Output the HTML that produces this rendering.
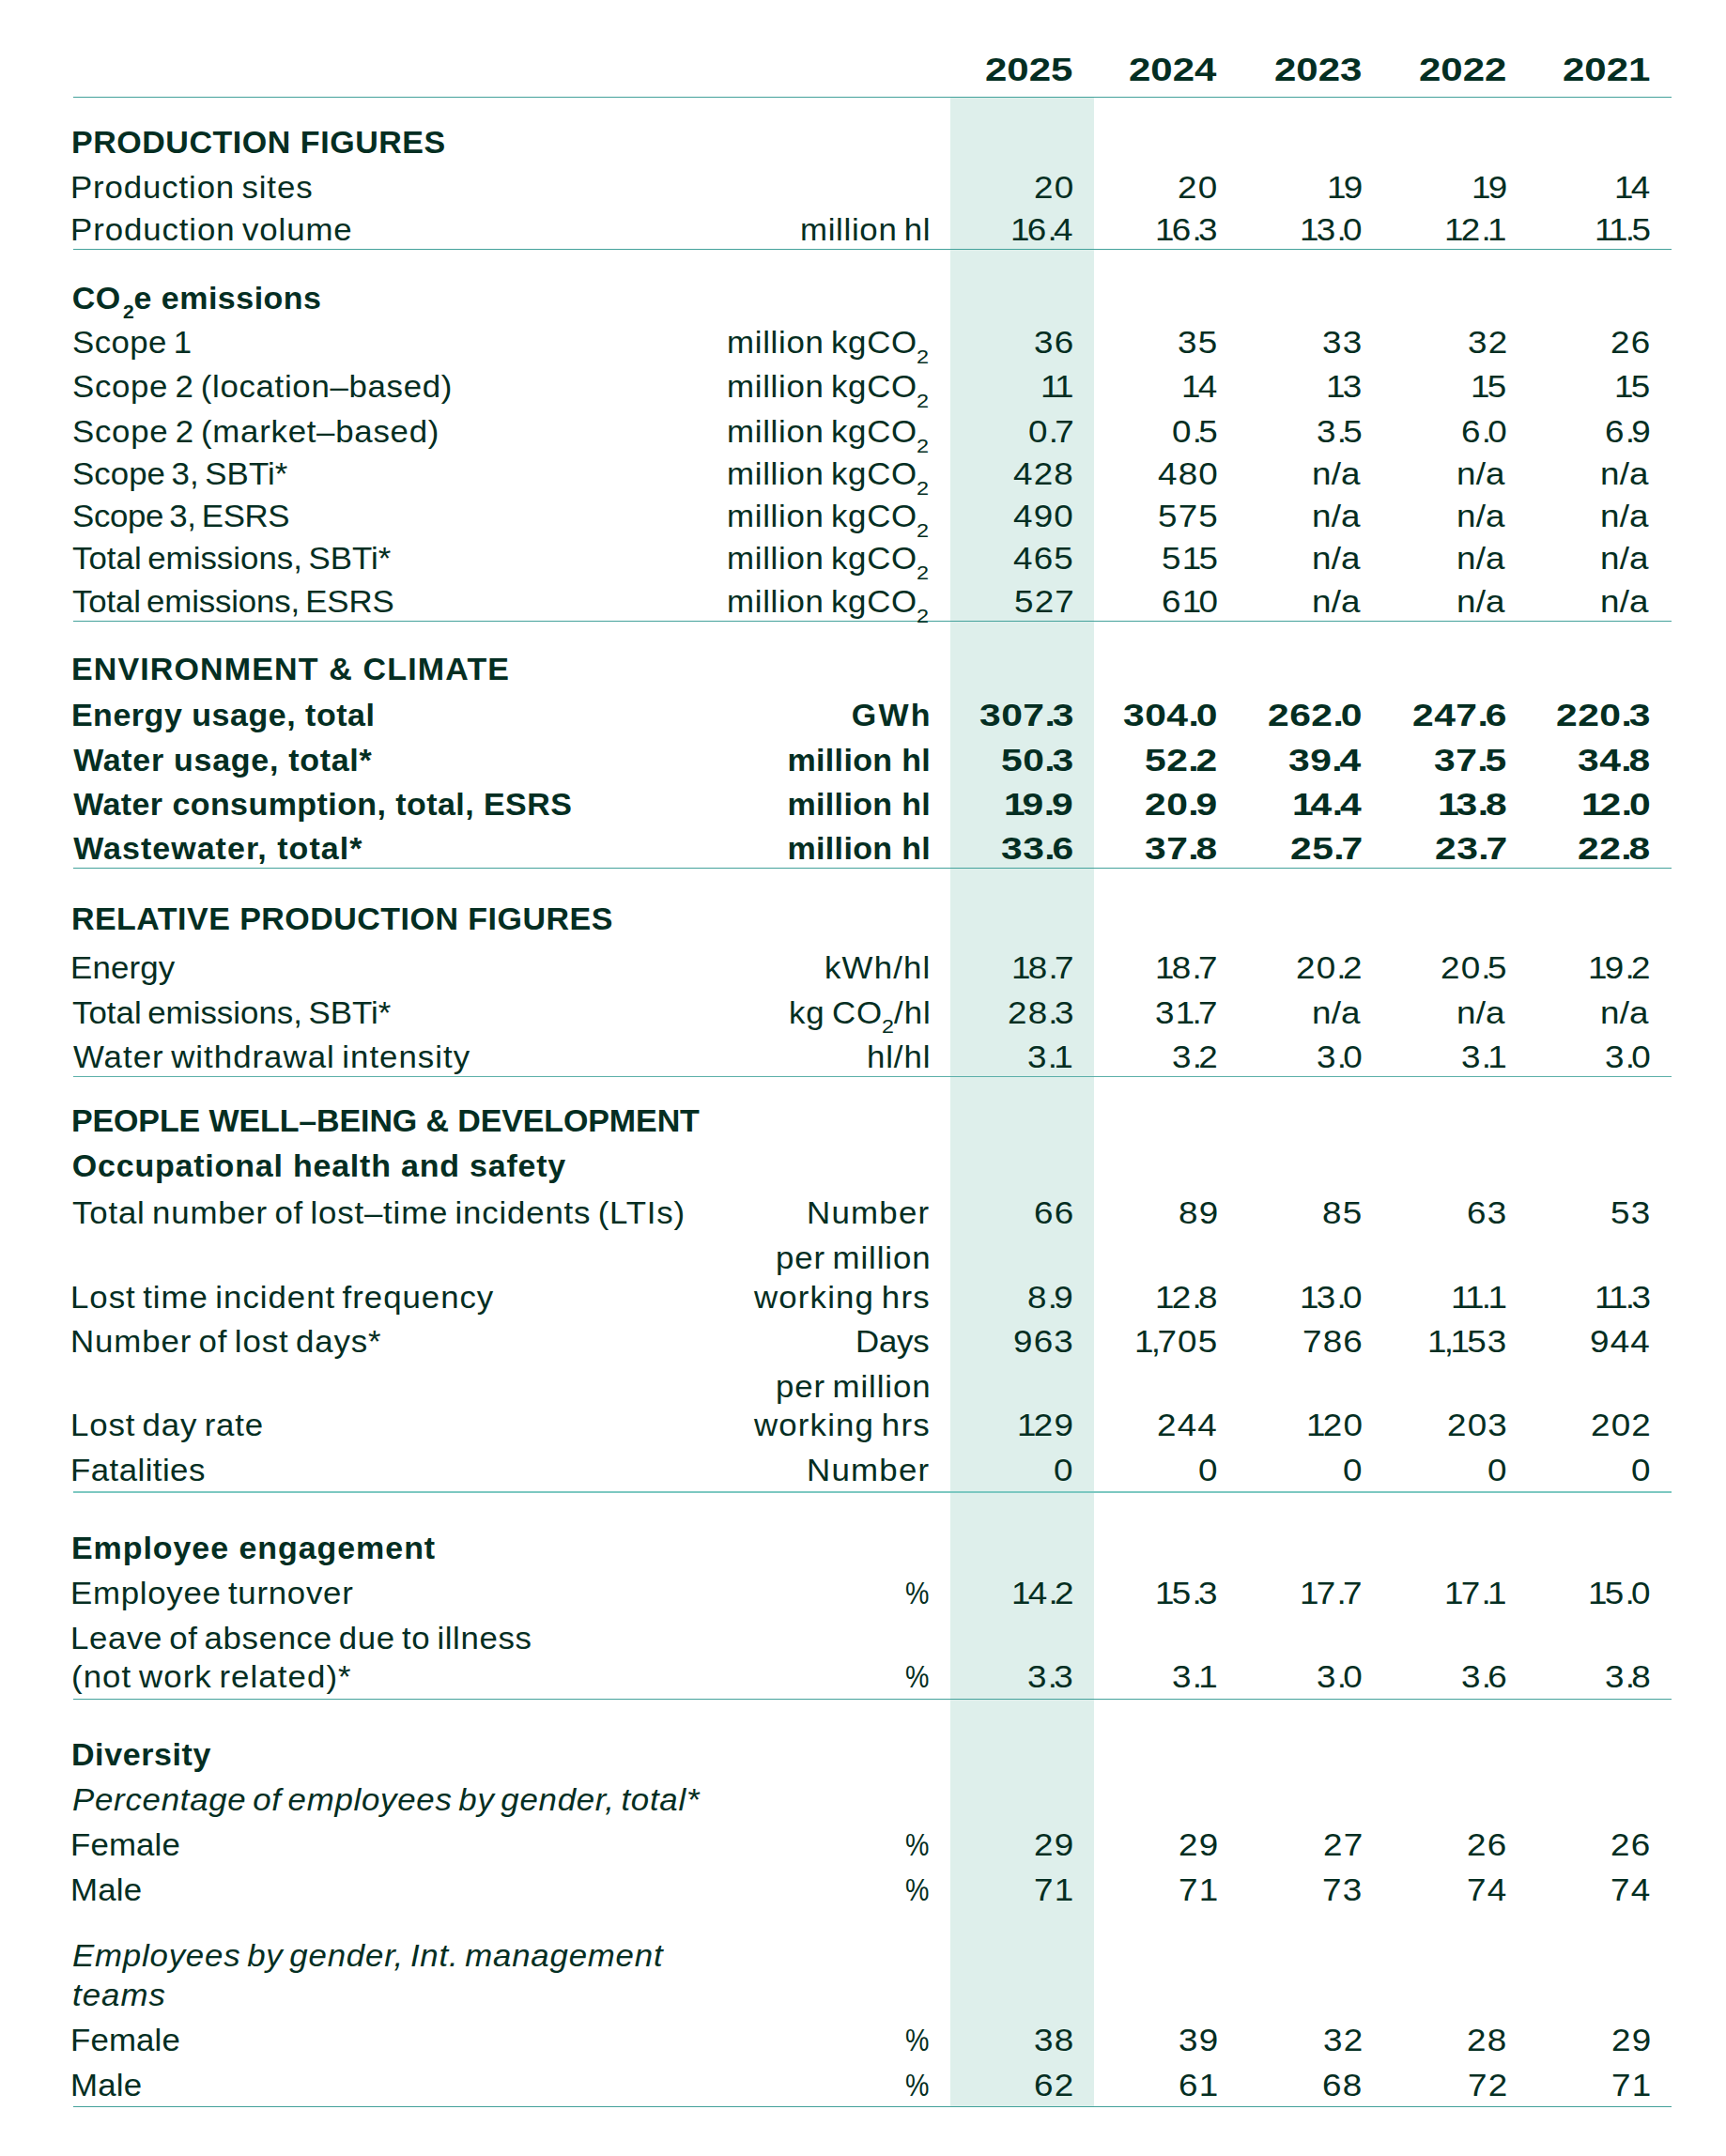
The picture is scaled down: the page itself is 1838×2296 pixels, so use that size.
<!DOCTYPE html>
<html><head><meta charset="utf-8"><title>Sustainability key figures 2021-2025</title>
<style>
html,body{margin:0;padding:0;background:#fff;}
body{width:1838px;height:2296px;position:relative;overflow:hidden;font-family:"Liberation Sans",sans-serif;color:#042e22;}
.t{position:absolute;white-space:nowrap;}
.ln{position:absolute;left:78px;width:1702px;}
.hl{position:absolute;left:1011.5px;width:153.5px;background:#deefeb;}
</style></head><body>
<div class="hl" style="top:104px;height:2139px"></div>
<div class="ln" style="top:103px;height:1px;background:#44a29b"></div>
<div class="ln" style="top:265px;height:1px;background:#44a29b"></div>
<div class="ln" style="top:661px;height:1px;background:#44a29b"></div>
<div class="ln" style="top:924px;height:1px;background:#44a29b"></div>
<div class="ln" style="top:1146px;height:1px;background:#5cb0aa"></div>
<div class="ln" style="top:1588px;height:2px;background:#7cc8c1"></div>
<div class="ln" style="top:1809px;height:1px;background:#44a29b"></div>
<div class="ln" style="top:2243px;height:1px;background:#44a29b"></div>
<div class="t" style="left:75.93px;top:134.00px;font-size:34.0px;line-height:34.0px;font-weight:bold;letter-spacing:0.54px;">PRODUCTION FIGURES</div>
<div class="t" style="left:75.34px;top:183.00px;font-size:33.5px;line-height:33.5px;letter-spacing:0.82px;word-spacing:-3.00px;transform:scaleX(1.040);transform-origin:0 0;">Production sites</div>
<div class="t" style="left:1100.78px;top:183.00px;font-size:33.5px;line-height:33.5px;transform:scaleX(1.100);transform-origin:0 0;"><span style="letter-spacing:1.06px">2</span><span style="letter-spacing:1.06px">0</span></div>
<div class="t" style="left:1254.28px;top:183.00px;font-size:33.5px;line-height:33.5px;transform:scaleX(1.100);transform-origin:0 0;"><span style="letter-spacing:1.06px">2</span><span style="letter-spacing:1.06px">0</span></div>
<div class="t" style="left:1412.51px;top:183.00px;font-size:33.5px;line-height:33.5px;transform:scaleX(1.100);transform-origin:0 0;"><span style="letter-spacing:-2.50px">1</span><span style="letter-spacing:1.06px">9</span></div>
<div class="t" style="left:1566.51px;top:183.00px;font-size:33.5px;line-height:33.5px;transform:scaleX(1.100);transform-origin:0 0;"><span style="letter-spacing:-2.50px">1</span><span style="letter-spacing:1.06px">9</span></div>
<div class="t" style="left:1718.84px;top:183.00px;font-size:33.5px;line-height:33.5px;transform:scaleX(1.100);transform-origin:0 0;"><span style="letter-spacing:-2.50px">1</span><span style="letter-spacing:1.06px">4</span></div>
<div class="t" style="left:75.34px;top:228.00px;font-size:33.5px;line-height:33.5px;letter-spacing:0.86px;word-spacing:-3.00px;transform:scaleX(1.040);transform-origin:0 0;">Production volume</div>
<div class="t" style="left:852.09px;top:228.00px;font-size:33.5px;line-height:33.5px;letter-spacing:0.65px;word-spacing:-3.00px;transform:scaleX(1.040);transform-origin:0 0;">million hl</div>
<div class="t" style="left:1076.02px;top:228.00px;font-size:33.5px;line-height:33.5px;transform:scaleX(1.100);transform-origin:0 0;"><span style="letter-spacing:-2.50px">1</span><span style="letter-spacing:1.06px">6</span><span style="letter-spacing:-3.25px">.</span><span style="letter-spacing:1.06px">4</span></div>
<div class="t" style="left:1230.06px;top:228.00px;font-size:33.5px;line-height:33.5px;transform:scaleX(1.100);transform-origin:0 0;"><span style="letter-spacing:-2.50px">1</span><span style="letter-spacing:1.06px">6</span><span style="letter-spacing:-3.25px">.</span><span style="letter-spacing:1.06px">3</span></div>
<div class="t" style="left:1383.88px;top:228.00px;font-size:33.5px;line-height:33.5px;transform:scaleX(1.100);transform-origin:0 0;"><span style="letter-spacing:-2.50px">1</span><span style="letter-spacing:1.06px">3</span><span style="letter-spacing:-3.25px">.</span><span style="letter-spacing:1.06px">0</span></div>
<div class="t" style="left:1538.24px;top:228.00px;font-size:33.5px;line-height:33.5px;transform:scaleX(1.100);transform-origin:0 0;"><span style="letter-spacing:-2.50px">1</span><span style="letter-spacing:1.06px">2</span><span style="letter-spacing:-3.25px">.</span><span style="letter-spacing:-2.50px">1</span></div>
<div class="t" style="left:1697.64px;top:228.00px;font-size:33.5px;line-height:33.5px;transform:scaleX(1.100);transform-origin:0 0;"><span style="letter-spacing:-2.50px">1</span><span style="letter-spacing:-2.50px">1</span><span style="letter-spacing:-3.25px">.</span><span style="letter-spacing:1.06px">5</span></div>
<div class="t" style="left:76.81px;top:300.00px;font-size:34.0px;line-height:34.0px;font-weight:bold;letter-spacing:0.42px;">CO</div>
<div class="t" style="left:130.57px;top:322.00px;font-size:20.0px;line-height:20.0px;font-weight:bold;transform:scaleX(1.059);transform-origin:0 0;">2</div>
<div class="t" style="left:142.47px;top:300.00px;font-size:34.0px;line-height:34.0px;font-weight:bold;letter-spacing:0.49px;">e emissions</div>
<div class="t" style="left:76.62px;top:348.00px;font-size:33.5px;line-height:33.5px;letter-spacing:0.38px;word-spacing:-3.00px;transform:scaleX(1.040);transform-origin:0 0;">Scope 1</div>
<div class="t" style="left:774.39px;top:348.00px;font-size:33.5px;line-height:33.5px;letter-spacing:0.68px;word-spacing:-3.00px;transform:scaleX(1.040);transform-origin:0 0;">million kgCO</div>
<div class="t" style="left:976.12px;top:371.00px;font-size:19.5px;line-height:19.5px;transform:scaleX(1.204);transform-origin:0 0;">2</div>
<div class="t" style="left:1100.96px;top:348.00px;font-size:33.5px;line-height:33.5px;transform:scaleX(1.100);transform-origin:0 0;"><span style="letter-spacing:1.06px">3</span><span style="letter-spacing:1.06px">6</span></div>
<div class="t" style="left:1254.39px;top:348.00px;font-size:33.5px;line-height:33.5px;transform:scaleX(1.100);transform-origin:0 0;"><span style="letter-spacing:1.06px">3</span><span style="letter-spacing:1.06px">5</span></div>
<div class="t" style="left:1408.46px;top:348.00px;font-size:33.5px;line-height:33.5px;transform:scaleX(1.100);transform-origin:0 0;"><span style="letter-spacing:1.06px">3</span><span style="letter-spacing:1.06px">3</span></div>
<div class="t" style="left:1562.70px;top:348.00px;font-size:33.5px;line-height:33.5px;transform:scaleX(1.100);transform-origin:0 0;"><span style="letter-spacing:1.06px">3</span><span style="letter-spacing:1.06px">2</span></div>
<div class="t" style="left:1715.46px;top:348.00px;font-size:33.5px;line-height:33.5px;transform:scaleX(1.100);transform-origin:0 0;"><span style="letter-spacing:1.06px">2</span><span style="letter-spacing:1.06px">6</span></div>
<div class="t" style="left:76.62px;top:395.00px;font-size:33.5px;line-height:33.5px;letter-spacing:0.65px;word-spacing:-3.00px;transform:scaleX(1.040);transform-origin:0 0;">Scope 2 (location–based)</div>
<div class="t" style="left:774.39px;top:395.00px;font-size:33.5px;line-height:33.5px;letter-spacing:0.68px;word-spacing:-3.00px;transform:scaleX(1.040);transform-origin:0 0;">million kgCO</div>
<div class="t" style="left:976.12px;top:418.00px;font-size:19.5px;line-height:19.5px;transform:scaleX(1.204);transform-origin:0 0;">2</div>
<div class="t" style="left:1107.80px;top:395.00px;font-size:33.5px;line-height:33.5px;transform:scaleX(1.100);transform-origin:0 0;"><span style="letter-spacing:-2.50px">1</span><span style="letter-spacing:-2.50px">1</span></div>
<div class="t" style="left:1257.84px;top:395.00px;font-size:33.5px;line-height:33.5px;transform:scaleX(1.100);transform-origin:0 0;"><span style="letter-spacing:-2.50px">1</span><span style="letter-spacing:1.06px">4</span></div>
<div class="t" style="left:1412.38px;top:395.00px;font-size:33.5px;line-height:33.5px;transform:scaleX(1.100);transform-origin:0 0;"><span style="letter-spacing:-2.50px">1</span><span style="letter-spacing:1.06px">3</span></div>
<div class="t" style="left:1566.31px;top:395.00px;font-size:33.5px;line-height:33.5px;transform:scaleX(1.100);transform-origin:0 0;"><span style="letter-spacing:-2.50px">1</span><span style="letter-spacing:1.06px">5</span></div>
<div class="t" style="left:1719.31px;top:395.00px;font-size:33.5px;line-height:33.5px;transform:scaleX(1.100);transform-origin:0 0;"><span style="letter-spacing:-2.50px">1</span><span style="letter-spacing:1.06px">5</span></div>
<div class="t" style="left:76.62px;top:443.00px;font-size:33.5px;line-height:33.5px;letter-spacing:0.69px;word-spacing:-3.00px;transform:scaleX(1.040);transform-origin:0 0;">Scope 2 (market–based)</div>
<div class="t" style="left:774.39px;top:443.00px;font-size:33.5px;line-height:33.5px;letter-spacing:0.68px;word-spacing:-3.00px;transform:scaleX(1.040);transform-origin:0 0;">million kgCO</div>
<div class="t" style="left:976.12px;top:466.00px;font-size:19.5px;line-height:19.5px;transform:scaleX(1.204);transform-origin:0 0;">2</div>
<div class="t" style="left:1094.54px;top:443.00px;font-size:33.5px;line-height:33.5px;transform:scaleX(1.100);transform-origin:0 0;"><span style="letter-spacing:1.06px">0</span><span style="letter-spacing:-3.25px">.</span><span style="letter-spacing:1.06px">7</span></div>
<div class="t" style="left:1247.73px;top:443.00px;font-size:33.5px;line-height:33.5px;transform:scaleX(1.100);transform-origin:0 0;"><span style="letter-spacing:1.06px">0</span><span style="letter-spacing:-3.25px">.</span><span style="letter-spacing:1.06px">5</span></div>
<div class="t" style="left:1401.73px;top:443.00px;font-size:33.5px;line-height:33.5px;transform:scaleX(1.100);transform-origin:0 0;"><span style="letter-spacing:1.06px">3</span><span style="letter-spacing:-3.25px">.</span><span style="letter-spacing:1.06px">5</span></div>
<div class="t" style="left:1555.62px;top:443.00px;font-size:33.5px;line-height:33.5px;transform:scaleX(1.100);transform-origin:0 0;"><span style="letter-spacing:1.06px">6</span><span style="letter-spacing:-3.25px">.</span><span style="letter-spacing:1.06px">0</span></div>
<div class="t" style="left:1708.93px;top:443.00px;font-size:33.5px;line-height:33.5px;transform:scaleX(1.100);transform-origin:0 0;"><span style="letter-spacing:1.06px">6</span><span style="letter-spacing:-3.25px">.</span><span style="letter-spacing:1.06px">9</span></div>
<div class="t" style="left:76.62px;top:488.00px;font-size:33.5px;line-height:33.5px;letter-spacing:0.04px;word-spacing:-3.00px;transform:scaleX(1.040);transform-origin:0 0;">Scope 3, SBTi*</div>
<div class="t" style="left:774.39px;top:488.00px;font-size:33.5px;line-height:33.5px;letter-spacing:0.68px;word-spacing:-3.00px;transform:scaleX(1.040);transform-origin:0 0;">million kgCO</div>
<div class="t" style="left:976.12px;top:511.00px;font-size:19.5px;line-height:19.5px;transform:scaleX(1.204);transform-origin:0 0;">2</div>
<div class="t" style="left:1079.29px;top:488.00px;font-size:33.5px;line-height:33.5px;transform:scaleX(1.100);transform-origin:0 0;"><span style="letter-spacing:1.06px">4</span><span style="letter-spacing:1.06px">2</span><span style="letter-spacing:1.06px">8</span></div>
<div class="t" style="left:1232.62px;top:488.00px;font-size:33.5px;line-height:33.5px;transform:scaleX(1.100);transform-origin:0 0;"><span style="letter-spacing:1.06px">4</span><span style="letter-spacing:1.06px">8</span><span style="letter-spacing:1.06px">0</span></div>
<div class="t" style="left:1397.44px;top:488.00px;font-size:33.5px;line-height:33.5px;transform:scaleX(1.100);transform-origin:0 0;"><span style="letter-spacing:0.30px">n</span><span style="letter-spacing:0.00px">/</span><span style="letter-spacing:0.30px">a</span></div>
<div class="t" style="left:1551.44px;top:488.00px;font-size:33.5px;line-height:33.5px;transform:scaleX(1.100);transform-origin:0 0;"><span style="letter-spacing:0.30px">n</span><span style="letter-spacing:0.00px">/</span><span style="letter-spacing:0.30px">a</span></div>
<div class="t" style="left:1704.44px;top:488.00px;font-size:33.5px;line-height:33.5px;transform:scaleX(1.100);transform-origin:0 0;"><span style="letter-spacing:0.30px">n</span><span style="letter-spacing:0.00px">/</span><span style="letter-spacing:0.30px">a</span></div>
<div class="t" style="left:76.62px;top:533.00px;font-size:33.5px;line-height:33.5px;letter-spacing:-0.34px;word-spacing:-3.00px;transform:scaleX(1.040);transform-origin:0 0;">Scope 3, ESRS</div>
<div class="t" style="left:774.39px;top:533.00px;font-size:33.5px;line-height:33.5px;letter-spacing:0.68px;word-spacing:-3.00px;transform:scaleX(1.040);transform-origin:0 0;">million kgCO</div>
<div class="t" style="left:976.12px;top:556.00px;font-size:19.5px;line-height:19.5px;transform:scaleX(1.204);transform-origin:0 0;">2</div>
<div class="t" style="left:1079.12px;top:533.00px;font-size:33.5px;line-height:33.5px;transform:scaleX(1.100);transform-origin:0 0;"><span style="letter-spacing:1.06px">4</span><span style="letter-spacing:1.06px">9</span><span style="letter-spacing:1.06px">0</span></div>
<div class="t" style="left:1232.73px;top:533.00px;font-size:33.5px;line-height:33.5px;transform:scaleX(1.100);transform-origin:0 0;"><span style="letter-spacing:1.06px">5</span><span style="letter-spacing:1.06px">7</span><span style="letter-spacing:1.06px">5</span></div>
<div class="t" style="left:1397.44px;top:533.00px;font-size:33.5px;line-height:33.5px;transform:scaleX(1.100);transform-origin:0 0;"><span style="letter-spacing:0.30px">n</span><span style="letter-spacing:0.00px">/</span><span style="letter-spacing:0.30px">a</span></div>
<div class="t" style="left:1551.44px;top:533.00px;font-size:33.5px;line-height:33.5px;transform:scaleX(1.100);transform-origin:0 0;"><span style="letter-spacing:0.30px">n</span><span style="letter-spacing:0.00px">/</span><span style="letter-spacing:0.30px">a</span></div>
<div class="t" style="left:1704.44px;top:533.00px;font-size:33.5px;line-height:33.5px;transform:scaleX(1.100);transform-origin:0 0;"><span style="letter-spacing:0.30px">n</span><span style="letter-spacing:0.00px">/</span><span style="letter-spacing:0.30px">a</span></div>
<div class="t" style="left:77.42px;top:578.00px;font-size:33.5px;line-height:33.5px;letter-spacing:0.01px;word-spacing:-3.00px;transform:scaleX(1.040);transform-origin:0 0;">Total emissions, SBTi*</div>
<div class="t" style="left:774.39px;top:578.00px;font-size:33.5px;line-height:33.5px;letter-spacing:0.68px;word-spacing:-3.00px;transform:scaleX(1.040);transform-origin:0 0;">million kgCO</div>
<div class="t" style="left:976.12px;top:601.00px;font-size:19.5px;line-height:19.5px;transform:scaleX(1.204);transform-origin:0 0;">2</div>
<div class="t" style="left:1079.23px;top:578.00px;font-size:33.5px;line-height:33.5px;transform:scaleX(1.100);transform-origin:0 0;"><span style="letter-spacing:1.06px">4</span><span style="letter-spacing:1.06px">6</span><span style="letter-spacing:1.06px">5</span></div>
<div class="t" style="left:1236.65px;top:578.00px;font-size:33.5px;line-height:33.5px;transform:scaleX(1.100);transform-origin:0 0;"><span style="letter-spacing:1.06px">5</span><span style="letter-spacing:-2.50px">1</span><span style="letter-spacing:1.06px">5</span></div>
<div class="t" style="left:1397.44px;top:578.00px;font-size:33.5px;line-height:33.5px;transform:scaleX(1.100);transform-origin:0 0;"><span style="letter-spacing:0.30px">n</span><span style="letter-spacing:0.00px">/</span><span style="letter-spacing:0.30px">a</span></div>
<div class="t" style="left:1551.44px;top:578.00px;font-size:33.5px;line-height:33.5px;transform:scaleX(1.100);transform-origin:0 0;"><span style="letter-spacing:0.30px">n</span><span style="letter-spacing:0.00px">/</span><span style="letter-spacing:0.30px">a</span></div>
<div class="t" style="left:1704.44px;top:578.00px;font-size:33.5px;line-height:33.5px;transform:scaleX(1.100);transform-origin:0 0;"><span style="letter-spacing:0.30px">n</span><span style="letter-spacing:0.00px">/</span><span style="letter-spacing:0.30px">a</span></div>
<div class="t" style="left:77.42px;top:624.00px;font-size:33.5px;line-height:33.5px;letter-spacing:-0.17px;word-spacing:-3.00px;transform:scaleX(1.040);transform-origin:0 0;">Total emissions, ESRS</div>
<div class="t" style="left:774.39px;top:624.00px;font-size:33.5px;line-height:33.5px;letter-spacing:0.68px;word-spacing:-3.00px;transform:scaleX(1.040);transform-origin:0 0;">million kgCO</div>
<div class="t" style="left:976.12px;top:647.00px;font-size:19.5px;line-height:19.5px;transform:scaleX(1.204);transform-origin:0 0;">2</div>
<div class="t" style="left:1079.54px;top:624.00px;font-size:33.5px;line-height:33.5px;transform:scaleX(1.100);transform-origin:0 0;"><span style="letter-spacing:1.06px">5</span><span style="letter-spacing:1.06px">2</span><span style="letter-spacing:1.06px">7</span></div>
<div class="t" style="left:1236.54px;top:624.00px;font-size:33.5px;line-height:33.5px;transform:scaleX(1.100);transform-origin:0 0;"><span style="letter-spacing:1.06px">6</span><span style="letter-spacing:-2.50px">1</span><span style="letter-spacing:1.06px">0</span></div>
<div class="t" style="left:1397.44px;top:624.00px;font-size:33.5px;line-height:33.5px;transform:scaleX(1.100);transform-origin:0 0;"><span style="letter-spacing:0.30px">n</span><span style="letter-spacing:0.00px">/</span><span style="letter-spacing:0.30px">a</span></div>
<div class="t" style="left:1551.44px;top:624.00px;font-size:33.5px;line-height:33.5px;transform:scaleX(1.100);transform-origin:0 0;"><span style="letter-spacing:0.30px">n</span><span style="letter-spacing:0.00px">/</span><span style="letter-spacing:0.30px">a</span></div>
<div class="t" style="left:1704.44px;top:624.00px;font-size:33.5px;line-height:33.5px;transform:scaleX(1.100);transform-origin:0 0;"><span style="letter-spacing:0.30px">n</span><span style="letter-spacing:0.00px">/</span><span style="letter-spacing:0.30px">a</span></div>
<div class="t" style="left:75.93px;top:695.00px;font-size:34.0px;line-height:34.0px;font-weight:bold;letter-spacing:1.14px;">ENVIRONMENT &amp; CLIMATE</div>
<div class="t" style="left:75.93px;top:744.00px;font-size:34.0px;line-height:34.0px;font-weight:bold;letter-spacing:0.52px;">Energy usage, total</div>
<div class="t" style="left:906.81px;top:744.00px;font-size:34.0px;line-height:34.0px;font-weight:bold;letter-spacing:2.15px;">GWh</div>
<div class="t" style="left:1042.55px;top:744.00px;font-size:34.0px;line-height:34.0px;transform:scaleX(1.200);transform-origin:0 0;font-weight:bold;"><span style="letter-spacing:0.40px">3</span><span style="letter-spacing:0.40px">0</span><span style="letter-spacing:0.40px">7</span><span style="letter-spacing:-2.60px">.</span><span style="letter-spacing:0.40px">3</span></div>
<div class="t" style="left:1196.25px;top:744.00px;font-size:34.0px;line-height:34.0px;transform:scaleX(1.200);transform-origin:0 0;font-weight:bold;"><span style="letter-spacing:0.40px">3</span><span style="letter-spacing:0.40px">0</span><span style="letter-spacing:0.40px">4</span><span style="letter-spacing:-2.60px">.</span><span style="letter-spacing:0.40px">0</span></div>
<div class="t" style="left:1350.25px;top:744.00px;font-size:34.0px;line-height:34.0px;transform:scaleX(1.200);transform-origin:0 0;font-weight:bold;"><span style="letter-spacing:0.40px">2</span><span style="letter-spacing:0.40px">6</span><span style="letter-spacing:0.40px">2</span><span style="letter-spacing:-2.60px">.</span><span style="letter-spacing:0.40px">0</span></div>
<div class="t" style="left:1504.05px;top:744.00px;font-size:34.0px;line-height:34.0px;transform:scaleX(1.200);transform-origin:0 0;font-weight:bold;"><span style="letter-spacing:0.40px">2</span><span style="letter-spacing:0.40px">4</span><span style="letter-spacing:0.40px">7</span><span style="letter-spacing:-2.60px">.</span><span style="letter-spacing:0.40px">6</span></div>
<div class="t" style="left:1657.05px;top:744.00px;font-size:34.0px;line-height:34.0px;transform:scaleX(1.200);transform-origin:0 0;font-weight:bold;"><span style="letter-spacing:0.40px">2</span><span style="letter-spacing:0.40px">2</span><span style="letter-spacing:0.40px">0</span><span style="letter-spacing:-2.60px">.</span><span style="letter-spacing:0.40px">3</span></div>
<div class="t" style="left:78.17px;top:792.00px;font-size:34.0px;line-height:34.0px;font-weight:bold;letter-spacing:0.71px;">Water usage, total*</div>
<div class="t" style="left:838.46px;top:792.00px;font-size:34.0px;line-height:34.0px;font-weight:bold;letter-spacing:0.34px;">million hl</div>
<div class="t" style="left:1065.73px;top:792.00px;font-size:34.0px;line-height:34.0px;transform:scaleX(1.200);transform-origin:0 0;font-weight:bold;"><span style="letter-spacing:0.40px">5</span><span style="letter-spacing:0.40px">0</span><span style="letter-spacing:-2.60px">.</span><span style="letter-spacing:0.40px">3</span></div>
<div class="t" style="left:1219.38px;top:792.00px;font-size:34.0px;line-height:34.0px;transform:scaleX(1.200);transform-origin:0 0;font-weight:bold;"><span style="letter-spacing:0.40px">5</span><span style="letter-spacing:0.40px">2</span><span style="letter-spacing:-2.60px">.</span><span style="letter-spacing:0.40px">2</span></div>
<div class="t" style="left:1371.97px;top:792.00px;font-size:34.0px;line-height:34.0px;transform:scaleX(1.200);transform-origin:0 0;font-weight:bold;"><span style="letter-spacing:0.40px">3</span><span style="letter-spacing:0.40px">9</span><span style="letter-spacing:-2.60px">.</span><span style="letter-spacing:0.40px">4</span></div>
<div class="t" style="left:1526.89px;top:792.00px;font-size:34.0px;line-height:34.0px;transform:scaleX(1.200);transform-origin:0 0;font-weight:bold;"><span style="letter-spacing:0.40px">3</span><span style="letter-spacing:0.40px">7</span><span style="letter-spacing:-2.60px">.</span><span style="letter-spacing:0.40px">5</span></div>
<div class="t" style="left:1680.01px;top:792.00px;font-size:34.0px;line-height:34.0px;transform:scaleX(1.200);transform-origin:0 0;font-weight:bold;"><span style="letter-spacing:0.40px">3</span><span style="letter-spacing:0.40px">4</span><span style="letter-spacing:-2.60px">.</span><span style="letter-spacing:0.40px">8</span></div>
<div class="t" style="left:78.17px;top:839.00px;font-size:34.0px;line-height:34.0px;font-weight:bold;letter-spacing:0.43px;">Water consumption, total, ESRS</div>
<div class="t" style="left:838.46px;top:839.00px;font-size:34.0px;line-height:34.0px;font-weight:bold;letter-spacing:0.34px;">million hl</div>
<div class="t" style="left:1069.37px;top:839.00px;font-size:34.0px;line-height:34.0px;transform:scaleX(1.200);transform-origin:0 0;font-weight:bold;"><span style="letter-spacing:-2.60px">1</span><span style="letter-spacing:0.40px">9</span><span style="letter-spacing:-2.60px">.</span><span style="letter-spacing:0.40px">9</span></div>
<div class="t" style="left:1219.27px;top:839.00px;font-size:34.0px;line-height:34.0px;transform:scaleX(1.200);transform-origin:0 0;font-weight:bold;"><span style="letter-spacing:0.40px">2</span><span style="letter-spacing:0.40px">0</span><span style="letter-spacing:-2.60px">.</span><span style="letter-spacing:0.40px">9</span></div>
<div class="t" style="left:1375.57px;top:839.00px;font-size:34.0px;line-height:34.0px;transform:scaleX(1.200);transform-origin:0 0;font-weight:bold;"><span style="letter-spacing:-2.60px">1</span><span style="letter-spacing:0.40px">4</span><span style="letter-spacing:-2.60px">.</span><span style="letter-spacing:0.40px">4</span></div>
<div class="t" style="left:1530.61px;top:839.00px;font-size:34.0px;line-height:34.0px;transform:scaleX(1.200);transform-origin:0 0;font-weight:bold;"><span style="letter-spacing:-2.60px">1</span><span style="letter-spacing:0.40px">3</span><span style="letter-spacing:-2.60px">.</span><span style="letter-spacing:0.40px">8</span></div>
<div class="t" style="left:1684.02px;top:839.00px;font-size:34.0px;line-height:34.0px;transform:scaleX(1.200);transform-origin:0 0;font-weight:bold;"><span style="letter-spacing:-2.60px">1</span><span style="letter-spacing:0.40px">2</span><span style="letter-spacing:-2.60px">.</span><span style="letter-spacing:0.40px">0</span></div>
<div class="t" style="left:78.17px;top:886.00px;font-size:34.0px;line-height:34.0px;font-weight:bold;letter-spacing:1.03px;">Wastewater, total*</div>
<div class="t" style="left:838.46px;top:886.00px;font-size:34.0px;line-height:34.0px;font-weight:bold;letter-spacing:0.34px;">million hl</div>
<div class="t" style="left:1065.73px;top:886.00px;font-size:34.0px;line-height:34.0px;transform:scaleX(1.200);transform-origin:0 0;font-weight:bold;"><span style="letter-spacing:0.40px">3</span><span style="letter-spacing:0.40px">3</span><span style="letter-spacing:-2.60px">.</span><span style="letter-spacing:0.40px">6</span></div>
<div class="t" style="left:1219.01px;top:886.00px;font-size:34.0px;line-height:34.0px;transform:scaleX(1.200);transform-origin:0 0;font-weight:bold;"><span style="letter-spacing:0.40px">3</span><span style="letter-spacing:0.40px">7</span><span style="letter-spacing:-2.60px">.</span><span style="letter-spacing:0.40px">8</span></div>
<div class="t" style="left:1373.54px;top:886.00px;font-size:34.0px;line-height:34.0px;transform:scaleX(1.200);transform-origin:0 0;font-weight:bold;"><span style="letter-spacing:0.40px">2</span><span style="letter-spacing:0.40px">5</span><span style="letter-spacing:-2.60px">.</span><span style="letter-spacing:0.40px">7</span></div>
<div class="t" style="left:1527.54px;top:886.00px;font-size:34.0px;line-height:34.0px;transform:scaleX(1.200);transform-origin:0 0;font-weight:bold;"><span style="letter-spacing:0.40px">2</span><span style="letter-spacing:0.40px">3</span><span style="letter-spacing:-2.60px">.</span><span style="letter-spacing:0.40px">7</span></div>
<div class="t" style="left:1680.01px;top:886.00px;font-size:34.0px;line-height:34.0px;transform:scaleX(1.200);transform-origin:0 0;font-weight:bold;"><span style="letter-spacing:0.40px">2</span><span style="letter-spacing:0.40px">2</span><span style="letter-spacing:-2.60px">.</span><span style="letter-spacing:0.40px">8</span></div>
<div class="t" style="left:75.93px;top:961.00px;font-size:34.0px;line-height:34.0px;font-weight:bold;letter-spacing:0.47px;">RELATIVE PRODUCTION FIGURES</div>
<div class="t" style="left:75.34px;top:1014.00px;font-size:33.5px;line-height:33.5px;letter-spacing:0.16px;transform:scaleX(1.040);transform-origin:0 0;">Energy</div>
<div class="t" style="left:878.35px;top:1014.00px;font-size:33.5px;line-height:33.5px;letter-spacing:1.12px;transform:scaleX(1.040);transform-origin:0 0;">kWh/hl</div>
<div class="t" style="left:1076.79px;top:1014.00px;font-size:33.5px;line-height:33.5px;transform:scaleX(1.100);transform-origin:0 0;"><span style="letter-spacing:-2.50px">1</span><span style="letter-spacing:1.06px">8</span><span style="letter-spacing:-3.25px">.</span><span style="letter-spacing:1.06px">7</span></div>
<div class="t" style="left:1230.29px;top:1014.00px;font-size:33.5px;line-height:33.5px;transform:scaleX(1.100);transform-origin:0 0;"><span style="letter-spacing:-2.50px">1</span><span style="letter-spacing:1.06px">8</span><span style="letter-spacing:-3.25px">.</span><span style="letter-spacing:1.06px">7</span></div>
<div class="t" style="left:1380.38px;top:1014.00px;font-size:33.5px;line-height:33.5px;transform:scaleX(1.100);transform-origin:0 0;"><span style="letter-spacing:1.06px">2</span><span style="letter-spacing:1.06px">0</span><span style="letter-spacing:-3.25px">.</span><span style="letter-spacing:1.06px">2</span></div>
<div class="t" style="left:1534.07px;top:1014.00px;font-size:33.5px;line-height:33.5px;transform:scaleX(1.100);transform-origin:0 0;"><span style="letter-spacing:1.06px">2</span><span style="letter-spacing:1.06px">0</span><span style="letter-spacing:-3.25px">.</span><span style="letter-spacing:1.06px">5</span></div>
<div class="t" style="left:1691.29px;top:1014.00px;font-size:33.5px;line-height:33.5px;transform:scaleX(1.100);transform-origin:0 0;"><span style="letter-spacing:-2.50px">1</span><span style="letter-spacing:1.06px">9</span><span style="letter-spacing:-3.25px">.</span><span style="letter-spacing:1.06px">2</span></div>
<div class="t" style="left:77.42px;top:1062.00px;font-size:33.5px;line-height:33.5px;letter-spacing:0.01px;word-spacing:-3.00px;transform:scaleX(1.040);transform-origin:0 0;">Total emissions, SBTi*</div>
<div class="t" style="left:839.65px;top:1062.00px;font-size:33.5px;line-height:33.5px;letter-spacing:0.82px;word-spacing:-3.00px;transform:scaleX(1.040);transform-origin:0 0;">kg CO</div>
<div class="t" style="left:939.03px;top:1084.00px;font-size:19.5px;line-height:19.5px;transform:scaleX(1.193);transform-origin:0 0;">2</div>
<div class="t" style="left:951.50px;top:1062.00px;font-size:33.5px;line-height:33.5px;letter-spacing:0.98px;transform:scaleX(1.040);transform-origin:0 0;">/hl</div>
<div class="t" style="left:1072.64px;top:1062.00px;font-size:33.5px;line-height:33.5px;transform:scaleX(1.100);transform-origin:0 0;"><span style="letter-spacing:1.06px">2</span><span style="letter-spacing:1.06px">8</span><span style="letter-spacing:-3.25px">.</span><span style="letter-spacing:1.06px">3</span></div>
<div class="t" style="left:1230.29px;top:1062.00px;font-size:33.5px;line-height:33.5px;transform:scaleX(1.100);transform-origin:0 0;"><span style="letter-spacing:1.06px">3</span><span style="letter-spacing:-2.50px">1</span><span style="letter-spacing:-3.25px">.</span><span style="letter-spacing:1.06px">7</span></div>
<div class="t" style="left:1397.44px;top:1062.00px;font-size:33.5px;line-height:33.5px;transform:scaleX(1.100);transform-origin:0 0;"><span style="letter-spacing:0.30px">n</span><span style="letter-spacing:0.00px">/</span><span style="letter-spacing:0.30px">a</span></div>
<div class="t" style="left:1551.44px;top:1062.00px;font-size:33.5px;line-height:33.5px;transform:scaleX(1.100);transform-origin:0 0;"><span style="letter-spacing:0.30px">n</span><span style="letter-spacing:0.00px">/</span><span style="letter-spacing:0.30px">a</span></div>
<div class="t" style="left:1704.44px;top:1062.00px;font-size:33.5px;line-height:33.5px;transform:scaleX(1.100);transform-origin:0 0;"><span style="letter-spacing:0.30px">n</span><span style="letter-spacing:0.00px">/</span><span style="letter-spacing:0.30px">a</span></div>
<div class="t" style="left:78.05px;top:1109.00px;font-size:33.5px;line-height:33.5px;letter-spacing:0.96px;word-spacing:-3.00px;transform:scaleX(1.040);transform-origin:0 0;">Water withdrawal intensity</div>
<div class="t" style="left:923.28px;top:1109.00px;font-size:33.5px;line-height:33.5px;letter-spacing:0.83px;transform:scaleX(1.040);transform-origin:0 0;">hl/hl</div>
<div class="t" style="left:1094.48px;top:1109.00px;font-size:33.5px;line-height:33.5px;transform:scaleX(1.100);transform-origin:0 0;"><span style="letter-spacing:1.06px">3</span><span style="letter-spacing:-3.25px">.</span><span style="letter-spacing:-2.50px">1</span></div>
<div class="t" style="left:1248.04px;top:1109.00px;font-size:33.5px;line-height:33.5px;transform:scaleX(1.100);transform-origin:0 0;"><span style="letter-spacing:1.06px">3</span><span style="letter-spacing:-3.25px">.</span><span style="letter-spacing:1.06px">2</span></div>
<div class="t" style="left:1401.62px;top:1109.00px;font-size:33.5px;line-height:33.5px;transform:scaleX(1.100);transform-origin:0 0;"><span style="letter-spacing:1.06px">3</span><span style="letter-spacing:-3.25px">.</span><span style="letter-spacing:1.06px">0</span></div>
<div class="t" style="left:1555.98px;top:1109.00px;font-size:33.5px;line-height:33.5px;transform:scaleX(1.100);transform-origin:0 0;"><span style="letter-spacing:1.06px">3</span><span style="letter-spacing:-3.25px">.</span><span style="letter-spacing:-2.50px">1</span></div>
<div class="t" style="left:1708.62px;top:1109.00px;font-size:33.5px;line-height:33.5px;transform:scaleX(1.100);transform-origin:0 0;"><span style="letter-spacing:1.06px">3</span><span style="letter-spacing:-3.25px">.</span><span style="letter-spacing:1.06px">0</span></div>
<div class="t" style="left:75.93px;top:1176.00px;font-size:34.0px;line-height:34.0px;font-weight:bold;letter-spacing:-0.12px;">PEOPLE WELL–BEING &amp; DEVELOPMENT</div>
<div class="t" style="left:76.81px;top:1224.00px;font-size:34.0px;line-height:34.0px;font-weight:bold;letter-spacing:0.79px;">Occupational health and safety</div>
<div class="t" style="left:77.42px;top:1275.00px;font-size:33.5px;line-height:33.5px;letter-spacing:0.78px;word-spacing:-3.00px;transform:scaleX(1.040);transform-origin:0 0;">Total number of lost–time incidents (LTIs)</div>
<div class="t" style="left:858.74px;top:1275.00px;font-size:33.5px;line-height:33.5px;letter-spacing:1.20px;transform:scaleX(1.040);transform-origin:0 0;">Number</div>
<div class="t" style="left:1100.96px;top:1275.00px;font-size:33.5px;line-height:33.5px;transform:scaleX(1.100);transform-origin:0 0;"><span style="letter-spacing:1.06px">6</span><span style="letter-spacing:1.06px">6</span></div>
<div class="t" style="left:1254.59px;top:1275.00px;font-size:33.5px;line-height:33.5px;transform:scaleX(1.100);transform-origin:0 0;"><span style="letter-spacing:1.06px">8</span><span style="letter-spacing:1.06px">9</span></div>
<div class="t" style="left:1408.39px;top:1275.00px;font-size:33.5px;line-height:33.5px;transform:scaleX(1.100);transform-origin:0 0;"><span style="letter-spacing:1.06px">8</span><span style="letter-spacing:1.06px">5</span></div>
<div class="t" style="left:1562.46px;top:1275.00px;font-size:33.5px;line-height:33.5px;transform:scaleX(1.100);transform-origin:0 0;"><span style="letter-spacing:1.06px">6</span><span style="letter-spacing:1.06px">3</span></div>
<div class="t" style="left:1715.46px;top:1275.00px;font-size:33.5px;line-height:33.5px;transform:scaleX(1.100);transform-origin:0 0;"><span style="letter-spacing:1.06px">5</span><span style="letter-spacing:1.06px">3</span></div>
<div class="t" style="left:825.95px;top:1323.00px;font-size:33.5px;line-height:33.5px;letter-spacing:0.86px;word-spacing:-3.00px;transform:scaleX(1.040);transform-origin:0 0;">per million</div>
<div class="t" style="left:75.34px;top:1365.00px;font-size:33.5px;line-height:33.5px;letter-spacing:0.92px;word-spacing:-3.00px;transform:scaleX(1.040);transform-origin:0 0;">Lost time incident frequency</div>
<div class="t" style="left:803.05px;top:1365.00px;font-size:33.5px;line-height:33.5px;letter-spacing:1.11px;word-spacing:-3.00px;transform:scaleX(1.040);transform-origin:0 0;">working hrs</div>
<div class="t" style="left:1094.43px;top:1365.00px;font-size:33.5px;line-height:33.5px;transform:scaleX(1.100);transform-origin:0 0;"><span style="letter-spacing:1.06px">8</span><span style="letter-spacing:-3.25px">.</span><span style="letter-spacing:1.06px">9</span></div>
<div class="t" style="left:1230.04px;top:1365.00px;font-size:33.5px;line-height:33.5px;transform:scaleX(1.100);transform-origin:0 0;"><span style="letter-spacing:-2.50px">1</span><span style="letter-spacing:1.06px">2</span><span style="letter-spacing:-3.25px">.</span><span style="letter-spacing:1.06px">8</span></div>
<div class="t" style="left:1383.88px;top:1365.00px;font-size:33.5px;line-height:33.5px;transform:scaleX(1.100);transform-origin:0 0;"><span style="letter-spacing:-2.50px">1</span><span style="letter-spacing:1.06px">3</span><span style="letter-spacing:-3.25px">.</span><span style="letter-spacing:1.06px">0</span></div>
<div class="t" style="left:1544.89px;top:1365.00px;font-size:33.5px;line-height:33.5px;transform:scaleX(1.100);transform-origin:0 0;"><span style="letter-spacing:-2.50px">1</span><span style="letter-spacing:-2.50px">1</span><span style="letter-spacing:-3.25px">.</span><span style="letter-spacing:-2.50px">1</span></div>
<div class="t" style="left:1697.71px;top:1365.00px;font-size:33.5px;line-height:33.5px;transform:scaleX(1.100);transform-origin:0 0;"><span style="letter-spacing:-2.50px">1</span><span style="letter-spacing:-2.50px">1</span><span style="letter-spacing:-3.25px">.</span><span style="letter-spacing:1.06px">3</span></div>
<div class="t" style="left:75.34px;top:1412.00px;font-size:33.5px;line-height:33.5px;letter-spacing:0.84px;word-spacing:-3.00px;transform:scaleX(1.040);transform-origin:0 0;">Number of lost days*</div>
<div class="t" style="left:910.94px;top:1412.00px;font-size:33.5px;line-height:33.5px;letter-spacing:-0.24px;transform:scaleX(1.040);transform-origin:0 0;">Days</div>
<div class="t" style="left:1079.30px;top:1412.00px;font-size:33.5px;line-height:33.5px;transform:scaleX(1.100);transform-origin:0 0;"><span style="letter-spacing:1.06px">9</span><span style="letter-spacing:1.06px">6</span><span style="letter-spacing:1.06px">3</span></div>
<div class="t" style="left:1208.33px;top:1412.00px;font-size:33.5px;line-height:33.5px;transform:scaleX(1.100);transform-origin:0 0;"><span style="letter-spacing:-2.50px">1</span><span style="letter-spacing:-3.25px">,</span><span style="letter-spacing:1.06px">7</span><span style="letter-spacing:1.06px">0</span><span style="letter-spacing:1.06px">5</span></div>
<div class="t" style="left:1386.80px;top:1412.00px;font-size:33.5px;line-height:33.5px;transform:scaleX(1.100);transform-origin:0 0;"><span style="letter-spacing:1.06px">7</span><span style="letter-spacing:1.06px">8</span><span style="letter-spacing:1.06px">6</span></div>
<div class="t" style="left:1520.31px;top:1412.00px;font-size:33.5px;line-height:33.5px;transform:scaleX(1.100);transform-origin:0 0;"><span style="letter-spacing:-2.50px">1</span><span style="letter-spacing:-3.25px">,</span><span style="letter-spacing:-2.50px">1</span><span style="letter-spacing:1.06px">5</span><span style="letter-spacing:1.06px">3</span></div>
<div class="t" style="left:1693.26px;top:1412.00px;font-size:33.5px;line-height:33.5px;transform:scaleX(1.100);transform-origin:0 0;"><span style="letter-spacing:1.06px">9</span><span style="letter-spacing:1.06px">4</span><span style="letter-spacing:1.06px">4</span></div>
<div class="t" style="left:825.95px;top:1460.00px;font-size:33.5px;line-height:33.5px;letter-spacing:0.86px;word-spacing:-3.00px;transform:scaleX(1.040);transform-origin:0 0;">per million</div>
<div class="t" style="left:75.34px;top:1501.00px;font-size:33.5px;line-height:33.5px;letter-spacing:0.80px;word-spacing:-3.00px;transform:scaleX(1.040);transform-origin:0 0;">Lost day rate</div>
<div class="t" style="left:803.05px;top:1501.00px;font-size:33.5px;line-height:33.5px;letter-spacing:1.11px;word-spacing:-3.00px;transform:scaleX(1.040);transform-origin:0 0;">working hrs</div>
<div class="t" style="left:1083.35px;top:1501.00px;font-size:33.5px;line-height:33.5px;transform:scaleX(1.100);transform-origin:0 0;"><span style="letter-spacing:-2.50px">1</span><span style="letter-spacing:1.06px">2</span><span style="letter-spacing:1.06px">9</span></div>
<div class="t" style="left:1232.26px;top:1501.00px;font-size:33.5px;line-height:33.5px;transform:scaleX(1.100);transform-origin:0 0;"><span style="letter-spacing:1.06px">2</span><span style="letter-spacing:1.06px">4</span><span style="letter-spacing:1.06px">4</span></div>
<div class="t" style="left:1390.54px;top:1501.00px;font-size:33.5px;line-height:33.5px;transform:scaleX(1.100);transform-origin:0 0;"><span style="letter-spacing:-2.50px">1</span><span style="letter-spacing:1.06px">2</span><span style="letter-spacing:1.06px">0</span></div>
<div class="t" style="left:1540.80px;top:1501.00px;font-size:33.5px;line-height:33.5px;transform:scaleX(1.100);transform-origin:0 0;"><span style="letter-spacing:1.06px">2</span><span style="letter-spacing:1.06px">0</span><span style="letter-spacing:1.06px">3</span></div>
<div class="t" style="left:1694.04px;top:1501.00px;font-size:33.5px;line-height:33.5px;transform:scaleX(1.100);transform-origin:0 0;"><span style="letter-spacing:1.06px">2</span><span style="letter-spacing:1.06px">0</span><span style="letter-spacing:1.06px">2</span></div>
<div class="t" style="left:75.34px;top:1549.00px;font-size:33.5px;line-height:33.5px;letter-spacing:0.42px;transform:scaleX(1.040);transform-origin:0 0;">Fatalities</div>
<div class="t" style="left:858.74px;top:1549.00px;font-size:33.5px;line-height:33.5px;letter-spacing:1.20px;transform:scaleX(1.040);transform-origin:0 0;">Number</div>
<div class="t" style="left:1122.45px;top:1549.00px;font-size:33.5px;line-height:33.5px;transform:scaleX(1.100);transform-origin:0 0;"><span style="letter-spacing:1.06px">0</span></div>
<div class="t" style="left:1275.95px;top:1549.00px;font-size:33.5px;line-height:33.5px;transform:scaleX(1.100);transform-origin:0 0;"><span style="letter-spacing:1.06px">0</span></div>
<div class="t" style="left:1429.95px;top:1549.00px;font-size:33.5px;line-height:33.5px;transform:scaleX(1.100);transform-origin:0 0;"><span style="letter-spacing:1.06px">0</span></div>
<div class="t" style="left:1583.95px;top:1549.00px;font-size:33.5px;line-height:33.5px;transform:scaleX(1.100);transform-origin:0 0;"><span style="letter-spacing:1.06px">0</span></div>
<div class="t" style="left:1736.95px;top:1549.00px;font-size:33.5px;line-height:33.5px;transform:scaleX(1.100);transform-origin:0 0;"><span style="letter-spacing:1.06px">0</span></div>
<div class="t" style="left:75.93px;top:1631.00px;font-size:34.0px;line-height:34.0px;font-weight:bold;letter-spacing:0.94px;">Employee engagement</div>
<div class="t" style="left:75.34px;top:1680.00px;font-size:33.5px;line-height:33.5px;letter-spacing:0.69px;word-spacing:-3.00px;transform:scaleX(1.040);transform-origin:0 0;">Employee turnover</div>
<div class="t" style="left:963.88px;top:1680.00px;font-size:33.5px;line-height:33.5px;transform:scaleX(0.854);transform-origin:0 0;">%</div>
<div class="t" style="left:1076.79px;top:1680.00px;font-size:33.5px;line-height:33.5px;transform:scaleX(1.100);transform-origin:0 0;"><span style="letter-spacing:-2.50px">1</span><span style="letter-spacing:1.06px">4</span><span style="letter-spacing:-3.25px">.</span><span style="letter-spacing:1.06px">2</span></div>
<div class="t" style="left:1230.06px;top:1680.00px;font-size:33.5px;line-height:33.5px;transform:scaleX(1.100);transform-origin:0 0;"><span style="letter-spacing:-2.50px">1</span><span style="letter-spacing:1.06px">5</span><span style="letter-spacing:-3.25px">.</span><span style="letter-spacing:1.06px">3</span></div>
<div class="t" style="left:1384.29px;top:1680.00px;font-size:33.5px;line-height:33.5px;transform:scaleX(1.100);transform-origin:0 0;"><span style="letter-spacing:-2.50px">1</span><span style="letter-spacing:1.06px">7</span><span style="letter-spacing:-3.25px">.</span><span style="letter-spacing:1.06px">7</span></div>
<div class="t" style="left:1538.24px;top:1680.00px;font-size:33.5px;line-height:33.5px;transform:scaleX(1.100);transform-origin:0 0;"><span style="letter-spacing:-2.50px">1</span><span style="letter-spacing:1.06px">7</span><span style="letter-spacing:-3.25px">.</span><span style="letter-spacing:-2.50px">1</span></div>
<div class="t" style="left:1690.88px;top:1680.00px;font-size:33.5px;line-height:33.5px;transform:scaleX(1.100);transform-origin:0 0;"><span style="letter-spacing:-2.50px">1</span><span style="letter-spacing:1.06px">5</span><span style="letter-spacing:-3.25px">.</span><span style="letter-spacing:1.06px">0</span></div>
<div class="t" style="left:75.34px;top:1728.00px;font-size:33.5px;line-height:33.5px;letter-spacing:0.59px;word-spacing:-3.00px;transform:scaleX(1.040);transform-origin:0 0;">Leave of absence due to illness</div>
<div class="t" style="left:76.04px;top:1769.00px;font-size:33.5px;line-height:33.5px;letter-spacing:1.03px;word-spacing:-3.00px;transform:scaleX(1.040);transform-origin:0 0;">(not work related)*</div>
<div class="t" style="left:963.88px;top:1769.00px;font-size:33.5px;line-height:33.5px;transform:scaleX(0.854);transform-origin:0 0;">%</div>
<div class="t" style="left:1094.30px;top:1769.00px;font-size:33.5px;line-height:33.5px;transform:scaleX(1.100);transform-origin:0 0;"><span style="letter-spacing:1.06px">3</span><span style="letter-spacing:-3.25px">.</span><span style="letter-spacing:1.06px">3</span></div>
<div class="t" style="left:1247.98px;top:1769.00px;font-size:33.5px;line-height:33.5px;transform:scaleX(1.100);transform-origin:0 0;"><span style="letter-spacing:1.06px">3</span><span style="letter-spacing:-3.25px">.</span><span style="letter-spacing:-2.50px">1</span></div>
<div class="t" style="left:1401.62px;top:1769.00px;font-size:33.5px;line-height:33.5px;transform:scaleX(1.100);transform-origin:0 0;"><span style="letter-spacing:1.06px">3</span><span style="letter-spacing:-3.25px">.</span><span style="letter-spacing:1.06px">0</span></div>
<div class="t" style="left:1555.80px;top:1769.00px;font-size:33.5px;line-height:33.5px;transform:scaleX(1.100);transform-origin:0 0;"><span style="letter-spacing:1.06px">3</span><span style="letter-spacing:-3.25px">.</span><span style="letter-spacing:1.06px">6</span></div>
<div class="t" style="left:1708.78px;top:1769.00px;font-size:33.5px;line-height:33.5px;transform:scaleX(1.100);transform-origin:0 0;"><span style="letter-spacing:1.06px">3</span><span style="letter-spacing:-3.25px">.</span><span style="letter-spacing:1.06px">8</span></div>
<div class="t" style="left:75.93px;top:1851.00px;font-size:34.0px;line-height:34.0px;font-weight:bold;letter-spacing:0.61px;">Diversity</div>
<div class="t" style="left:77.13px;top:1900.00px;font-size:33.5px;line-height:33.5px;font-style:italic;letter-spacing:0.70px;word-spacing:-3.50px;transform:scaleX(1.040);transform-origin:0 0;">Percentage of employees by gender, total*</div>
<div class="t" style="left:75.34px;top:1948.00px;font-size:33.5px;line-height:33.5px;letter-spacing:0.12px;transform:scaleX(1.040);transform-origin:0 0;">Female</div>
<div class="t" style="left:963.88px;top:1948.00px;font-size:33.5px;line-height:33.5px;transform:scaleX(0.854);transform-origin:0 0;">%</div>
<div class="t" style="left:1101.09px;top:1948.00px;font-size:33.5px;line-height:33.5px;transform:scaleX(1.100);transform-origin:0 0;"><span style="letter-spacing:1.06px">2</span><span style="letter-spacing:1.06px">9</span></div>
<div class="t" style="left:1254.59px;top:1948.00px;font-size:33.5px;line-height:33.5px;transform:scaleX(1.100);transform-origin:0 0;"><span style="letter-spacing:1.06px">2</span><span style="letter-spacing:1.06px">9</span></div>
<div class="t" style="left:1408.70px;top:1948.00px;font-size:33.5px;line-height:33.5px;transform:scaleX(1.100);transform-origin:0 0;"><span style="letter-spacing:1.06px">2</span><span style="letter-spacing:1.06px">7</span></div>
<div class="t" style="left:1562.46px;top:1948.00px;font-size:33.5px;line-height:33.5px;transform:scaleX(1.100);transform-origin:0 0;"><span style="letter-spacing:1.06px">2</span><span style="letter-spacing:1.06px">6</span></div>
<div class="t" style="left:1715.46px;top:1948.00px;font-size:33.5px;line-height:33.5px;transform:scaleX(1.100);transform-origin:0 0;"><span style="letter-spacing:1.06px">2</span><span style="letter-spacing:1.06px">6</span></div>
<div class="t" style="left:75.34px;top:1996.00px;font-size:33.5px;line-height:33.5px;letter-spacing:0.22px;transform:scaleX(1.040);transform-origin:0 0;">Male</div>
<div class="t" style="left:963.88px;top:1996.00px;font-size:33.5px;line-height:33.5px;transform:scaleX(0.854);transform-origin:0 0;">%</div>
<div class="t" style="left:1101.14px;top:1996.00px;font-size:33.5px;line-height:33.5px;transform:scaleX(1.100);transform-origin:0 0;"><span style="letter-spacing:1.06px">7</span><span style="letter-spacing:-2.50px">1</span></div>
<div class="t" style="left:1254.64px;top:1996.00px;font-size:33.5px;line-height:33.5px;transform:scaleX(1.100);transform-origin:0 0;"><span style="letter-spacing:1.06px">7</span><span style="letter-spacing:-2.50px">1</span></div>
<div class="t" style="left:1408.46px;top:1996.00px;font-size:33.5px;line-height:33.5px;transform:scaleX(1.100);transform-origin:0 0;"><span style="letter-spacing:1.06px">7</span><span style="letter-spacing:1.06px">3</span></div>
<div class="t" style="left:1561.92px;top:1996.00px;font-size:33.5px;line-height:33.5px;transform:scaleX(1.100);transform-origin:0 0;"><span style="letter-spacing:1.06px">7</span><span style="letter-spacing:1.06px">4</span></div>
<div class="t" style="left:1714.92px;top:1996.00px;font-size:33.5px;line-height:33.5px;transform:scaleX(1.100);transform-origin:0 0;"><span style="letter-spacing:1.06px">7</span><span style="letter-spacing:1.06px">4</span></div>
<div class="t" style="left:77.13px;top:2066.00px;font-size:33.5px;line-height:33.5px;font-style:italic;letter-spacing:0.75px;word-spacing:-3.50px;transform:scaleX(1.040);transform-origin:0 0;">Employees by gender, Int. management</div>
<div class="t" style="left:76.62px;top:2108.00px;font-size:33.5px;line-height:33.5px;font-style:italic;letter-spacing:0.97px;transform:scaleX(1.040);transform-origin:0 0;">teams</div>
<div class="t" style="left:75.34px;top:2156.00px;font-size:33.5px;line-height:33.5px;letter-spacing:0.12px;transform:scaleX(1.040);transform-origin:0 0;">Female</div>
<div class="t" style="left:963.88px;top:2156.00px;font-size:33.5px;line-height:33.5px;transform:scaleX(0.854);transform-origin:0 0;">%</div>
<div class="t" style="left:1100.95px;top:2156.00px;font-size:33.5px;line-height:33.5px;transform:scaleX(1.100);transform-origin:0 0;"><span style="letter-spacing:1.06px">3</span><span style="letter-spacing:1.06px">8</span></div>
<div class="t" style="left:1254.59px;top:2156.00px;font-size:33.5px;line-height:33.5px;transform:scaleX(1.100);transform-origin:0 0;"><span style="letter-spacing:1.06px">3</span><span style="letter-spacing:1.06px">9</span></div>
<div class="t" style="left:1408.70px;top:2156.00px;font-size:33.5px;line-height:33.5px;transform:scaleX(1.100);transform-origin:0 0;"><span style="letter-spacing:1.06px">3</span><span style="letter-spacing:1.06px">2</span></div>
<div class="t" style="left:1562.45px;top:2156.00px;font-size:33.5px;line-height:33.5px;transform:scaleX(1.100);transform-origin:0 0;"><span style="letter-spacing:1.06px">2</span><span style="letter-spacing:1.06px">8</span></div>
<div class="t" style="left:1715.59px;top:2156.00px;font-size:33.5px;line-height:33.5px;transform:scaleX(1.100);transform-origin:0 0;"><span style="letter-spacing:1.06px">2</span><span style="letter-spacing:1.06px">9</span></div>
<div class="t" style="left:75.34px;top:2204.00px;font-size:33.5px;line-height:33.5px;letter-spacing:0.22px;transform:scaleX(1.040);transform-origin:0 0;">Male</div>
<div class="t" style="left:963.88px;top:2204.00px;font-size:33.5px;line-height:33.5px;transform:scaleX(0.854);transform-origin:0 0;">%</div>
<div class="t" style="left:1101.20px;top:2204.00px;font-size:33.5px;line-height:33.5px;transform:scaleX(1.100);transform-origin:0 0;"><span style="letter-spacing:1.06px">6</span><span style="letter-spacing:1.06px">2</span></div>
<div class="t" style="left:1254.64px;top:2204.00px;font-size:33.5px;line-height:33.5px;transform:scaleX(1.100);transform-origin:0 0;"><span style="letter-spacing:1.06px">6</span><span style="letter-spacing:-2.50px">1</span></div>
<div class="t" style="left:1408.45px;top:2204.00px;font-size:33.5px;line-height:33.5px;transform:scaleX(1.100);transform-origin:0 0;"><span style="letter-spacing:1.06px">6</span><span style="letter-spacing:1.06px">8</span></div>
<div class="t" style="left:1562.70px;top:2204.00px;font-size:33.5px;line-height:33.5px;transform:scaleX(1.100);transform-origin:0 0;"><span style="letter-spacing:1.06px">7</span><span style="letter-spacing:1.06px">2</span></div>
<div class="t" style="left:1715.64px;top:2204.00px;font-size:33.5px;line-height:33.5px;transform:scaleX(1.100);transform-origin:0 0;"><span style="letter-spacing:1.06px">7</span><span style="letter-spacing:-2.50px">1</span></div>
<div class="t" style="left:1049.23px;top:56.00px;font-size:35.0px;line-height:35.0px;transform:scaleX(1.200);transform-origin:0 0;font-weight:bold;"><span style="letter-spacing:0.00px">2</span><span style="letter-spacing:0.00px">0</span><span style="letter-spacing:0.00px">2</span><span style="letter-spacing:0.00px">5</span></div>
<div class="t" style="left:1201.79px;top:56.00px;font-size:35.0px;line-height:35.0px;transform:scaleX(1.200);transform-origin:0 0;font-weight:bold;"><span style="letter-spacing:0.00px">2</span><span style="letter-spacing:0.00px">0</span><span style="letter-spacing:0.00px">2</span><span style="letter-spacing:0.00px">4</span></div>
<div class="t" style="left:1357.08px;top:56.00px;font-size:35.0px;line-height:35.0px;transform:scaleX(1.200);transform-origin:0 0;font-weight:bold;"><span style="letter-spacing:0.00px">2</span><span style="letter-spacing:0.00px">0</span><span style="letter-spacing:0.00px">2</span><span style="letter-spacing:0.00px">3</span></div>
<div class="t" style="left:1511.25px;top:56.00px;font-size:35.0px;line-height:35.0px;transform:scaleX(1.200);transform-origin:0 0;font-weight:bold;"><span style="letter-spacing:0.00px">2</span><span style="letter-spacing:0.00px">0</span><span style="letter-spacing:0.00px">2</span><span style="letter-spacing:0.00px">2</span></div>
<div class="t" style="left:1663.73px;top:56.00px;font-size:35.0px;line-height:35.0px;transform:scaleX(1.200);transform-origin:0 0;font-weight:bold;"><span style="letter-spacing:0.00px">2</span><span style="letter-spacing:0.00px">0</span><span style="letter-spacing:0.00px">2</span><span style="letter-spacing:-1.00px">1</span></div>
</body></html>
